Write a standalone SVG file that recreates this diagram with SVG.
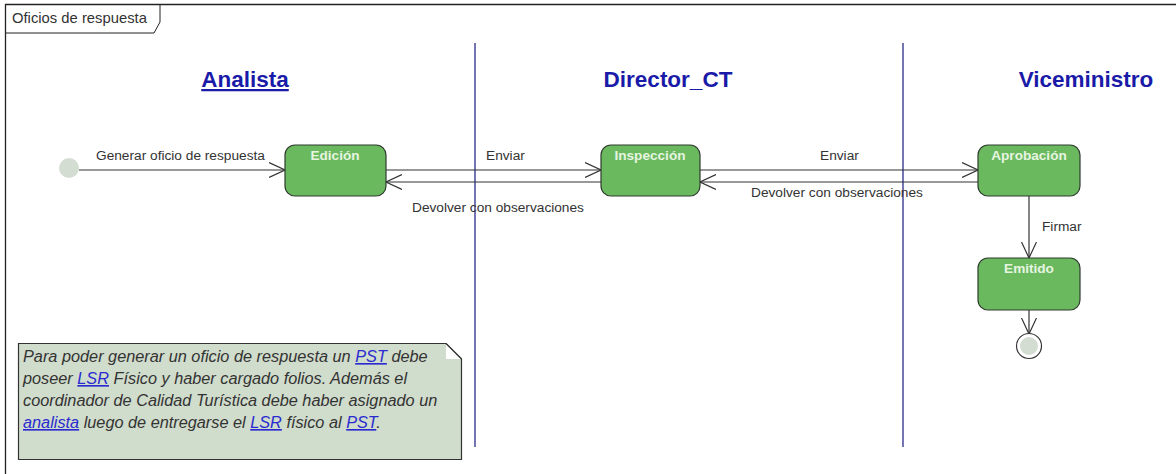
<svg xmlns="http://www.w3.org/2000/svg" width="1176" height="474" viewBox="0 0 1176 474">
<defs>
<marker id="open" markerWidth="17" markerHeight="16" refX="16" refY="8" orient="auto" markerUnits="userSpaceOnUse">
<path d="M0,0.5 L16,8 L0,15.5" fill="none" stroke="#333" stroke-width="1.2"/>
</marker>
<style>
.t{font-family:"Liberation Sans",Arial,sans-serif;font-size:13.7px;fill:#333}
.lane{font-family:"Liberation Sans",Arial,sans-serif;font-size:22.5px;font-weight:bold;fill:#1a1aa8}
.st{fill:#6bb95f;stroke:#2f3a2f;stroke-width:1.2}
.sl{font-family:"Liberation Sans",Arial,sans-serif;font-size:13.6px;font-weight:bold;fill:#e6f5e0;text-anchor:middle}
.c{stroke:#333;stroke-width:1.2;fill:none;marker-end:url(#open)}
.sep{stroke:#2a2a8a;stroke-width:1.3}
.note{font-family:"Liberation Sans",Arial,sans-serif;font-size:16.3px;font-style:italic;fill:#333}
.lk{fill:#2a2ad0;text-decoration:underline}
</style>
</defs>
<rect width="1176" height="474" fill="#fff"/>
<g id="frame">
<path d="M5.5,474 L5.5,4.5 L1176,4.5" fill="none" stroke="#222" stroke-width="1.3"/>
<path d="M5.5,33 L154,33 L160,22 L160,4.5" fill="none" stroke="#222" stroke-width="1"/>
<text class="t" x="12" y="23" style="font-size:14.8px">Oficios de respuesta</text>
</g>
<g id="lanes">
<line class="sep" x1="475" y1="43" x2="475" y2="447"/>
<line class="sep" x1="903" y1="43" x2="903" y2="447"/>
<text class="lane" x="245" y="87" text-anchor="middle" text-decoration="underline">Analista</text>
<text class="lane" x="668" y="87" text-anchor="middle">Director_CT</text>
<text class="lane" x="1086" y="87" text-anchor="middle">Viceministro</text>
</g>
<g id="connectors">
<line class="c" x1="79" y1="170" x2="285" y2="170"/>
<text class="t" x="96" y="160">Generar oficio de respuesta</text>
<line class="c" x1="386" y1="170" x2="601" y2="170"/>
<text class="t" x="486" y="160">Enviar</text>
<line class="c" x1="601" y1="182" x2="386" y2="182"/>
<text class="t" x="412" y="212">Devolver con observaciones</text>
<line class="c" x1="700" y1="170" x2="978" y2="170"/>
<text class="t" x="820" y="160">Enviar</text>
<line class="c" x1="978" y1="182" x2="700" y2="182"/>
<text class="t" x="751" y="197">Devolver con observaciones</text>
<line class="c" x1="1029" y1="196" x2="1029" y2="258"/>
<text class="t" x="1042" y="231">Firmar</text>
<line class="c" x1="1029" y1="310" x2="1029" y2="334"/>
</g>
<g id="initial"><circle cx="69" cy="168" r="10" fill="#d3ddd1"/></g>
<g id="edicion"><rect class="st" x="285" y="145" width="101" height="51" rx="10"/><text class="sl" x="335" y="160">Edición</text></g>
<g id="inspeccion"><rect class="st" x="601" y="145" width="99" height="51" rx="10"/><text class="sl" x="650" y="160">Inspección</text></g>
<g id="aprobacion"><rect class="st" x="978" y="145" width="102" height="51" rx="10"/><text class="sl" x="1029" y="160">Aprobación</text></g>
<g id="emitido"><rect class="st" x="978" y="258" width="102" height="52" rx="10"/><text class="sl" x="1029" y="273">Emitido</text></g>
<g id="final"><circle cx="1029" cy="346" r="12.5" fill="#fff" stroke="#333" stroke-width="1.2"/><circle cx="1029" cy="346" r="9" fill="#d3ddd1"/></g>
<g id="note">
<path d="M18.5,343.5 L446,343.5 L461.5,359 L461.5,459.5 L18.5,459.5 Z" fill="#d0dccc" stroke="#333" stroke-width="1.2"/>
<path d="M446,343.5 L461.5,359 L446,359 Z" fill="#fff" stroke="none"/>
<path d="M446,343.5 L461.5,359" stroke="#333" stroke-width="1.2"/>
<text class="note" x="23" y="362">Para poder generar un oficio de respuesta un <tspan class="lk">PST</tspan> debe</text>
<text class="note" x="23" y="384">poseer <tspan class="lk">LSR</tspan> Físico y haber cargado folios. Además el</text>
<text class="note" x="23" y="406">coordinador de Calidad Turística debe haber asignado un</text>
<text class="note" x="23" y="428"><tspan class="lk">analista</tspan> luego de entregarse el <tspan class="lk">LSR</tspan> físico al <tspan class="lk">PST</tspan>.</text>
</g>
</svg>
